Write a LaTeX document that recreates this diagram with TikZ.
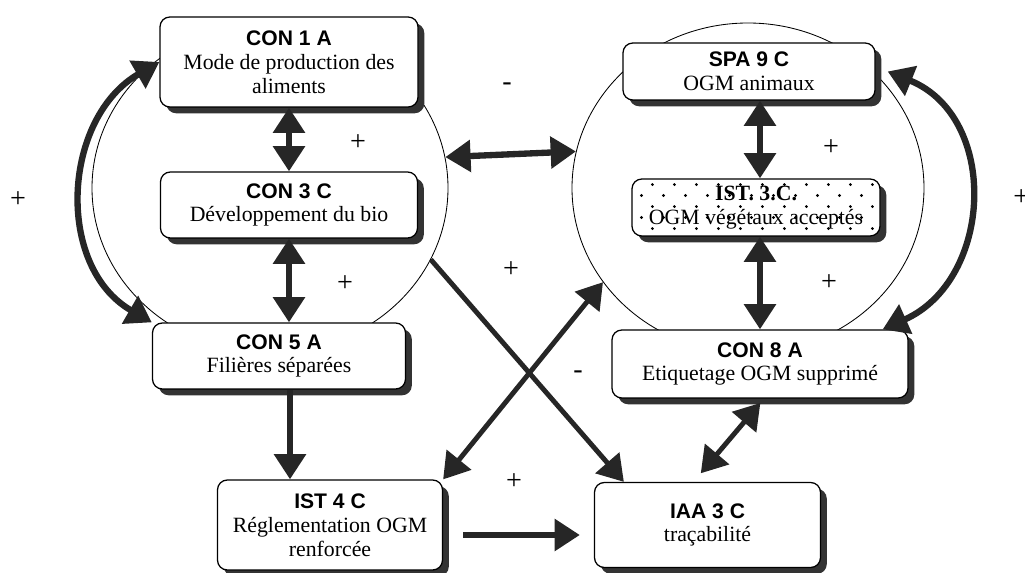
\documentclass[tikz,border=0pt]{standalone}
\usepackage{fontspec}
\setmainfont{Liberation Serif}
\newfontfamily\headfont{Liberation Sans}
\usepackage{tikz}
\usetikzlibrary{shapes.geometric, arrows.meta, shadows, patterns, positioning}
\pgfdeclarepatternformonly{sparsedots}{\pgfpointorigin}{\pgfpoint{15.6pt}{15.6pt}}{\pgfpoint{15.6pt}{15.6pt}}{%
  \pgfpathcircle{\pgfpoint{3.9pt}{3.9pt}}{1.1pt}%
  \pgfpathcircle{\pgfpoint{11.7pt}{11.7pt}}{1.1pt}%
  \pgfusepath{fill}}
\newcommand{\hd}[1]{{\headfont\bfseries\fontsize{15}{17}\selectfont #1}}
\tikzstyle{box} = [rectangle, rounded corners=7pt, draw=black, line width=0.9pt, fill=white, align=center, inner sep=2pt, font=\fontsize{15.5}{17}\selectfont, drop shadow={shadow xshift=4.5pt, shadow yshift=-4.5pt, fill=black!80, opacity=1}]
\tikzstyle{ring} = [ellipse, draw=black, line width=0.6pt, inner sep=0pt]
\tikzstyle{fatarrow} = [line width=4.5pt, draw=black!85, ->, >={Triangle[length=18pt,width=22pt]}]
\tikzstyle{fatboth} = [fatarrow, <->]
\tikzstyle{sign} = [font=\fontsize{20}{20}\selectfont, inner sep=0pt]

\begin{document}
\begin{tikzpicture}[node distance=1.5cm]
		\useasboundingbox (0,0) rectangle (25.625,-14.325);
		
		\node (lcirc) [ring, minimum width=8.9cm, minimum height=8.25cm] at (6.75,-4.7) {};
		\node (rcirc) [ring, minimum width=8.8cm, minimum height=8.25cm] at (18.7,-4.7) {};
		
		\node (con1a) [box, minimum width=6.45cm, minimum height=2.25cm] at (7.225,-1.55) {\hd{CON 1 A}\\Mode de production des\\aliments};
		\node (con3c) [box, below of=con1a, yshift=-2.075cm, minimum width=6.425cm, minimum height=1.65cm] {\hd{CON 3 C}\\Développement du bio};
		\node (con5a) [box, below of=con3c, xshift=-0.25cm, yshift=-2.275cm, minimum width=6.325cm, minimum height=1.65cm] {\hd{CON 5 A}\\Filières séparées};
		\node (ist4c) [box, below of=con5a, xshift=1.275cm, yshift=-2.725cm, minimum width=5.625cm, minimum height=2.25cm] {\hd{IST 4 C}\\Réglementation OGM\\renforcée};
		\node (iaa3c) [box, right of=ist4c, xshift=7.9375cm, minimum width=5.65cm, minimum height=2.125cm] {\hd{IAA 3 C}\\traçabilité};
		
		\node (spa9c) [box, right of=con1a, xshift=10cm, yshift=-0.2375cm, minimum width=6.3cm, minimum height=1.425cm] {\hd{SPA 9 C}\\OGM animaux};
		\node (ist3c) [box, below of=spa9c, xshift=0.175cm, yshift=-1.9cm, minimum width=6.2cm, minimum height=1.425cm, postaction={pattern=sparsedots}] {\textbf{IST. 3.C.}\\OGM végétaux acceptés};
		\node (con8a) [box, below of=ist3c, xshift=0.1cm, yshift=-2.4125cm, minimum width=7.4cm, minimum height=1.7cm] {\hd{CON 8 A}\\Etiquetage OGM supprimé};
		
		\coordinate (c5s) at ([xshift=0.275cm]con5a.south);
		
		\draw [fatboth] (con1a.south) -- (con3c.north);
		\draw [fatboth] (con3c.south) -- (con3c.south |- con5a.north);
		\draw [fatarrow] (c5s) -- (c5s |- ist4c.north);
		\draw [fatarrow, shorten <=0.5cm, shorten >=0.35cm] ([yshift=-0.25cm]ist4c.east) -- ([yshift=-0.25cm]iaa3c.west);
		\draw [fatboth] (con1a.west) to[out=210, in=150, looseness=1.1] (con5a.north west);
		
		\draw [fatboth] (spa9c.south -| con8a.north) -- (ist3c.north -| con8a.north);
		\draw [fatboth] (ist3c.south -| con8a.north) -- (con8a.north);
		\draw [fatboth] ([xshift=0.3cm]spa9c.east) to[out=-22, in=24, looseness=1.2] ([xshift=-0.65cm]con8a.north east);
		\draw [fatboth, line width=3.5pt, shorten <=4pt, shorten >=8pt] ([xshift=0.1cm]con8a.south) -- ([xshift=-0.35cm]iaa3c.north);
		
		\draw [fatboth] (lcirc.10) -- (rcirc.168);
		\draw [fatarrow, line width=3.5pt] (lcirc.-24) -- ([xshift=0.75cm]iaa3c.north west);
		\draw [fatboth, line width=3.5pt] (rcirc.213) -- (ist4c.north east);
		
		\node (s1) [sign] at (8.95,-3.575) {+};
		\node (s2) [sign] at (8.625,-7.1) {+};
		\node (s3) [sign] at (12.675,-2.175) {-};
		\node (s4) [sign] at (12.775,-6.75) {+};
		\node (s5) [sign] at (20.775,-3.7) {+};
		\node (s6) [sign] at (20.725,-7.075) {+};
		\node (s7) [sign] at (14.45,-9.375) {-};
		\node (s8) [sign] at (12.85,-12.05) {+};
		\node (s9) [sign] at (0.45,-5.0) {+};
		\node (s10) [sign] at (25.53,-4.95) {+};
		
		\end{tikzpicture}
\end{document}
